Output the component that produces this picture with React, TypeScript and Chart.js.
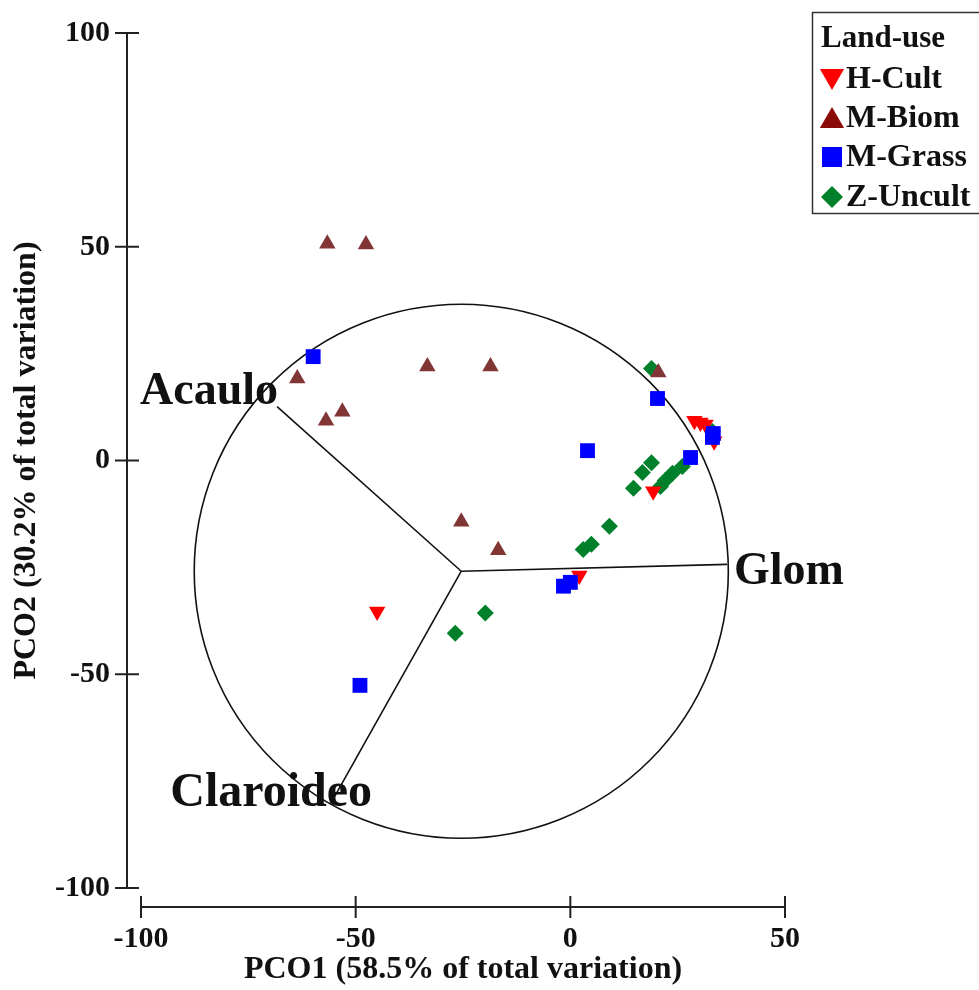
import React, { useEffect, useRef } from 'react';
import { Chart, registerables } from 'chart.js';

Chart.register(...registerables);

// ---------- data ----------
const seriesNames = ['H-Cult', 'M-Biom', 'M-Grass', 'Z-Uncult'];

const hCultX = [28.9, 30.3, 31.5, 33.5, 19.3, 2.1, -45.0];
const hCultY = [9.3, 8.9, 8.4, 4.5, -7.2, -26.9, -35.3];

const mBiomX = [-56.6, -47.6, -63.6, -53.1, -56.9, -33.3, -18.6, -25.4, -16.8, 20.5];
const mBiomY = [50.7, 50.5, 19.2, 11.4, 9.3, 22.0, 22.0, -14.3, -21.0, 20.6];

const mGrassX = [-59.9, 20.3, 4.0, 28.0, 33.3, 33.1, -1.6, 0.0, -49.0];
const mGrassY = [24.3, 14.5, 2.3, 0.7, 6.3, 5.4, -29.4, -28.5, -52.6];

const zUncultX = [18.9, 33.1, 18.9, 16.8, 14.7, 26.1, 23.8, 22.1, 21.0, 9.1, 4.9, 3.0, -19.8, -26.8];
const zUncultY = [21.5, 6.8, -0.5, -2.8, -6.5, -1.4, -3.0, -4.7, -6.1, -15.4, -19.6, -20.8, -35.7, -40.4];

// vector overlay (correlation circle and loadings)
const vectorNames = ['Glom', 'Acaulo', 'Claroideo'];
const vectorX = [36.5, -68.3, -55.9];
const vectorY = [-24.3, 12.6, -80.4];
const circleCenterX = -25.4;
const circleCenterY = -25.9;
const circleRadius = 62.2;

// axis ranges / ticks
const xMin = -100;
const xMax = 50;
const yMin = -100;
const yMax = 100;
const tickStep = 50;

const xTitle = 'PCO1 (58.5% of total variation)';
const yTitle = 'PCO2 (30.2% of total variation)';
const legendTitle = 'Land-use';

// ---------- styles ----------
const FONT = '"Liberation Serif", "Times New Roman", Times, serif';
const INK = '#111111';
const seriesColors = ['#ff0000', '#823535', '#0000ff', '#00802b'];
const legendColors = ['#ff0000', '#8b0a0a', '#0000ff', '#00802b'];
const legendShapes = ['down', 'up', 'square', 'diamond'];

const toPoints = (xs: number[], ys: number[]) => xs.map((v, i) => ({ x: v, y: ys[i] }));

function drawShape(ctx: CanvasRenderingContext2D, shape: string, x: number, y: number, s: number, color: string) {
  ctx.save();
  ctx.fillStyle = color;
  ctx.beginPath();
  if (shape === 'down') {
    ctx.moveTo(x - s * 0.55, y - s * 0.45);
    ctx.lineTo(x + s * 0.55, y - s * 0.45);
    ctx.lineTo(x, y + s * 0.5);
  } else if (shape === 'up') {
    ctx.moveTo(x - s * 0.55, y + s * 0.45);
    ctx.lineTo(x + s * 0.55, y + s * 0.45);
    ctx.lineTo(x, y - s * 0.5);
  } else if (shape === 'square') {
    ctx.rect(x - s / 2 + 1, y - s / 2 + 1, s - 2, s - 2);
  } else {
    ctx.moveTo(x, y - s / 2);
    ctx.lineTo(x + s / 2, y);
    ctx.lineTo(x, y + s / 2);
    ctx.lineTo(x - s / 2, y);
  }
  ctx.closePath();
  ctx.fill();
  ctx.restore();
}

const overlayPlugin = {
  id: 'pcoOverlay',
  beforeDatasetsDraw(chart: any) {
    const { ctx } = chart;
    const xs = chart.scales.x;
    const ys = chart.scales.y;
    const cx = xs.getPixelForValue(circleCenterX);
    const cy = ys.getPixelForValue(circleCenterY);
    const r = xs.getPixelForValue(circleCenterX + circleRadius) - cx;
    ctx.save();
    ctx.strokeStyle = INK;
    ctx.lineWidth = 1.6;
    ctx.beginPath();
    ctx.arc(cx, cy, r, 0, Math.PI * 2);
    ctx.stroke();
    ctx.restore();
  },
  afterDatasetsDraw(chart: any) {
    const { ctx } = chart;
    const xs = chart.scales.x;
    const ys = chart.scales.y;
    ctx.save();
    ctx.fillStyle = INK;
    ctx.textBaseline = 'alphabetic';
    vectorNames.forEach((name, i) => {
      const px = xs.getPixelForValue(vectorX[i]);
      const py = ys.getPixelForValue(vectorY[i]);
      if (i === 0) {
        ctx.font = `bold 46px ${FONT}`;
        ctx.textAlign = 'left';
        ctx.fillText(name, px + 7, py + 20);
      } else if (i === 1) {
        ctx.font = `bold 46px ${FONT}`;
        ctx.textAlign = 'right';
        ctx.fillText(name, px + 1, py - 3);
      } else {
        ctx.font = `bold 48px ${FONT}`;
        ctx.textAlign = 'left';
        ctx.fillText(name, px - 160, py + 2);
      }
    });
    ctx.restore();
  },
  afterDraw(chart: any) {
    const { ctx, chartArea } = chart;
    const xs = chart.scales.x;
    const ys = chart.scales.y;
    ctx.save();
    ctx.strokeStyle = '#222222';
    ctx.lineWidth = 2;
    // y axis (offset to the left of the plotting area)
    const ax = chartArea.left - 14;
    const yTicks = ys.ticks.map((t: any) => ys.getPixelForValue(t.value));
    ctx.beginPath();
    ctx.moveTo(ax, Math.min(...yTicks));
    ctx.lineTo(ax, Math.max(...yTicks));
    yTicks.forEach((p: number) => {
      ctx.moveTo(ax - 12, p);
      ctx.lineTo(ax + 12, p);
    });
    ctx.stroke();
    // x axis (offset below the plotting area)
    const ay = chartArea.bottom + 19;
    const xTicks = xs.ticks.map((t: any) => xs.getPixelForValue(t.value));
    ctx.beginPath();
    ctx.moveTo(Math.min(...xTicks), ay);
    ctx.lineTo(Math.max(...xTicks), ay);
    xTicks.forEach((p: number) => {
      ctx.moveTo(p, ay - 11);
      ctx.lineTo(p, ay + 11);
    });
    ctx.stroke();
    ctx.restore();

    // legend
    ctx.save();
    ctx.strokeStyle = '#333333';
    ctx.lineWidth = 1.5;
    ctx.strokeRect(812.5, 12.5, 190, 201);
    ctx.fillStyle = INK;
    ctx.font = `bold 31px ${FONT}`;
    ctx.textAlign = 'left';
    ctx.textBaseline = 'middle';
    ctx.fillText(legendTitle, 821, 39);
    const rows = [79, 118, 157, 197];
    chart.data.datasets
      .filter((d: any) => seriesNames.includes(d.label))
      .sort((a: any, b: any) => seriesNames.indexOf(a.label) - seriesNames.indexOf(b.label))
      .forEach((d: any, i: number) => {
        const idx = seriesNames.indexOf(d.label);
        drawShape(ctx, legendShapes[idx], 832, rows[i], 22, legendColors[idx]);
        ctx.fillStyle = INK;
        ctx.font = `bold 32px ${FONT}`;
        ctx.fillText(d.label, 846, rows[i] + 1);
      });
    ctx.restore();
  },
};

export default function App() {
  const ref = useRef<HTMLCanvasElement>(null);

  useEffect(() => {
    if (!ref.current) return;
    const spokeSets = vectorNames.map((name, i) => ({
      label: 'vec-' + name,
      data: [
        { x: circleCenterX, y: circleCenterY },
        { x: vectorX[i], y: vectorY[i] },
      ],
      showLine: true,
      borderColor: INK,
      borderWidth: 1.6,
      pointRadius: 0,
      order: 10,
    }));
    const chart = new Chart(ref.current, {
      type: 'scatter',
      data: {
        datasets: [
          {
            label: seriesNames[0],
            data: toPoints(hCultX, hCultY),
            pointStyle: 'triangle',
            rotation: 180,
            radius: 9.5,
            backgroundColor: seriesColors[0],
            borderWidth: 0,
            order: 2,
          },
          {
            label: seriesNames[1],
            data: toPoints(mBiomX, mBiomY),
            pointStyle: 'triangle',
            radius: 9.5,
            backgroundColor: seriesColors[1],
            borderWidth: 0,
            order: 1,
          },
          {
            label: seriesNames[2],
            data: toPoints(mGrassX, mGrassY),
            pointStyle: 'rect',
            radius: 10.5,
            backgroundColor: seriesColors[2],
            borderWidth: 0,
            order: 0,
          },
          {
            label: seriesNames[3],
            data: toPoints(zUncultX, zUncultY),
            pointStyle: 'rectRot',
            radius: 8.5,
            backgroundColor: seriesColors[3],
            borderWidth: 0,
            order: 3,
          },
          ...spokeSets,
        ] as any,
      },
      options: {
        responsive: false,
        animation: false,
        events: [],
        layout: { padding: { left: 0, top: 33, right: 194, bottom: 0 } },
        plugins: { legend: { display: false }, tooltip: { enabled: false } },
        scales: {
          x: {
            type: 'linear',
            min: xMin,
            max: xMax,
            afterFit: (s: any) => {
              s.height = 102;
            },
            grid: { display: false, drawTicks: false },
            border: { display: false },
            ticks: {
              stepSize: tickStep,
              includeBounds: false,
              padding: 33,
              maxRotation: 0,
              color: INK,
              font: { family: FONT, size: 30, weight: 'bold' },
            },
            title: {
              display: true,
              text: xTitle,
              color: INK,
              font: { family: FONT, size: 32, weight: 'bold', lineHeight: 1 },
              padding: { top: 0, bottom: 4 },
            },
          },
          y: {
            type: 'linear',
            min: yMin,
            max: yMax,
            afterFit: (s: any) => {
              s.width = 141;
            },
            grid: { display: false, drawTicks: true, tickLength: 31 },
            border: { display: false },
            ticks: {
              stepSize: tickStep,
              padding: 0,
              color: INK,
              font: { family: FONT, size: 30, weight: 'bold' },
            },
            title: {
              display: true,
              text: yTitle,
              color: INK,
              font: { family: FONT, size: 32, weight: 'bold', lineHeight: 1 },
              padding: { top: 11, bottom: 0 },
            },
          },
        },
      } as any,
      plugins: [overlayPlugin as any],
    });
    return () => chart.destroy();
  }, []);

  return (
    <div style={{ position: 'fixed', left: 0, top: 0, width: 979, height: 990, background: '#ffffff' }}>
      <canvas ref={ref} width={979} height={990} style={{ display: 'block', width: 979, height: 990 }} />
    </div>
  );
}
